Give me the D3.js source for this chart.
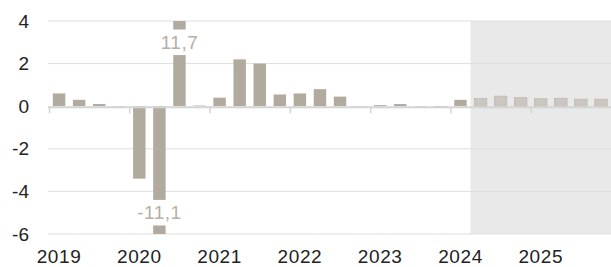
<!DOCTYPE html>
<html lang="en">
<head>
<meta charset="UTF-8">
<title>Quarterly change</title>
<script src="https://d3js.org/d3.v7.min.js"></script>
<style>
  body { margin: 0; background: #fff; }
  text { font-family: "Liberation Sans", Arial, sans-serif; }
</style>
</head>
<body>
<svg id="chart" width="611" height="267"></svg>
<script>
// quarterly values, 2019Q1 .. 2025Q4
const years = ["2019", "2020", "2021", "2022", "2023", "2024", "2025"];
const quarterNames = ["Q1", "Q2", "Q3", "Q4"];
const values = [
    0.6, 0.3, 0.1, 0.0,
    -3.4, -11.1, 11.7, 0.03,
    0.4, 2.2, 2.0, 0.55,
    0.6, 0.8, 0.45, -0.02,
    0.05, 0.1, 0.0, -0.05,
    0.3, 0.36, 0.47, 0.4,
    0.35, 0.37, 0.33, 0.33
];
const forecastFrom = "2024Q2";
const yTicks = [-6, -4, -2, 0, 2, 4];

const quarters = [];
years.forEach(y => quarterNames.forEach(q => quarters.push(y + q)));
const data = quarters.map((q, i) => ({ q: q, v: values[i], forecast: i >= quarters.indexOf(forecastFrom) }));

const svg = d3.select("#chart");
const plotLeft = 49, plotRight = 611, plotTop = 21, plotBottom = 234;

let x = d3.scaleBand().domain(quarters).range([plotLeft, plotRight]).paddingInner(0.38).paddingOuter(0.19);
let y = d3.scaleLinear().domain([-6, 4]).range([plotBottom, plotTop]);

const barColor = "#b1aa9f";
const fcColor = "#cbc6bf";
const step = x.step();
const fcX = plotLeft + quarters.indexOf(forecastFrom) * step;

// forecast shading
svg.append("rect")
    .attr("x", fcX)
    .attr("y", y(4))
    .attr("width", plotRight - fcX)
    .attr("height", y(-6) - y(4))
    .attr("fill", "#e9e9e9");

// grid
svg.append("g").selectAll("line")
    .data(yTicks.filter(d => d !== 0))
    .enter().append("line")
    .attr("x1", plotLeft - 1).attr("x2", plotRight)
    .attr("y1", d => y(d)).attr("y2", d => y(d))
    .attr("stroke", "#dedede").attr("stroke-width", 1);

// y labels
svg.append("g").selectAll("text")
    .data(yTicks)
    .enter().append("text")
    .attr("x", 29)
    .attr("y", d => y(d))
    .attr("dy", "0.35em")
    .attr("text-anchor", "end")
    .attr("font-size", 19)
    .attr("fill", "#222")
    .text(d => d);

// bars, clipped ones get a break with the real value written in the gap
const lo = -6, hi = 4, gapStart = 1.6, gapSize = 1.2;
const segs = [];
data.forEach(d => {
    if (d.v > hi) {
        segs.push({ d: d, a: 0, b: hi - gapStart });
        segs.push({ d: d, a: hi - gapStart + gapSize, b: hi });
    } else if (d.v < lo) {
        segs.push({ d: d, a: 0, b: lo + gapStart });
        segs.push({ d: d, a: lo + gapStart - gapSize, b: lo });
    } else {
        segs.push({ d: d, a: 0, b: d.v });
    }
});

svg.append("g").selectAll("rect")
    .data(segs)
    .enter().append("rect")
    .attr("x", s => x(s.d.q))
    .attr("width", x.bandwidth())
    .attr("y", s => y(Math.max(s.a, s.b)))
    .attr("height", s => Math.max(0.6, Math.abs(y(s.a) - y(s.b))))
    .attr("fill", s => s.d.forecast ? fcColor : barColor)
    .attr("stroke", s => s.d.forecast ? "#bfb9b2" : "none")
    .attr("stroke-width", 0.8);

svg.append("g").selectAll("text")
    .data(data.filter(d => d.v > hi || d.v < lo))
    .enter().append("text")
    .attr("x", d => x(d.q) + x.bandwidth() / 2)
    .attr("y", d => d.v > hi ? y(hi - gapStart + gapSize / 2) : y(lo + gapStart - gapSize / 2))
    .attr("dy", "0.35em")
    .attr("text-anchor", "middle")
    .attr("font-size", 19)
    .attr("letter-spacing", 0.5)
    .attr("fill", "#b6afa5")
    .text(d => d.v.toFixed(1).replace(".", ","));

// zero line with year ticks
svg.append("line")
    .attr("x1", plotLeft - 1).attr("x2", plotRight)
    .attr("y1", y(0) + 1).attr("y2", y(0) + 1)
    .attr("stroke", "#d4d4d4").attr("stroke-width", 2);

svg.append("g").selectAll("line")
    .data(years)
    .enter().append("line")
    .attr("x1", d => x(d + "Q1") - x.paddingOuter() * step + 0.5)
    .attr("x2", d => x(d + "Q1") - x.paddingOuter() * step + 0.5)
    .attr("y1", y(0) + 1).attr("y2", y(0) + 7)
    .attr("stroke", "#d4d4d4").attr("stroke-width", 1.5);

// year labels under first quarter
svg.append("g").selectAll("text")
    .data(years)
    .enter().append("text")
    .attr("x", d => x(d + "Q1") + x.bandwidth() / 2)
    .attr("y", 263)
    .attr("text-anchor", "middle")
    .attr("font-size", 19)
    .attr("letter-spacing", 0.6)
    .attr("fill", "#222")
    .text(d => d);
</script>
</body>
</html>
